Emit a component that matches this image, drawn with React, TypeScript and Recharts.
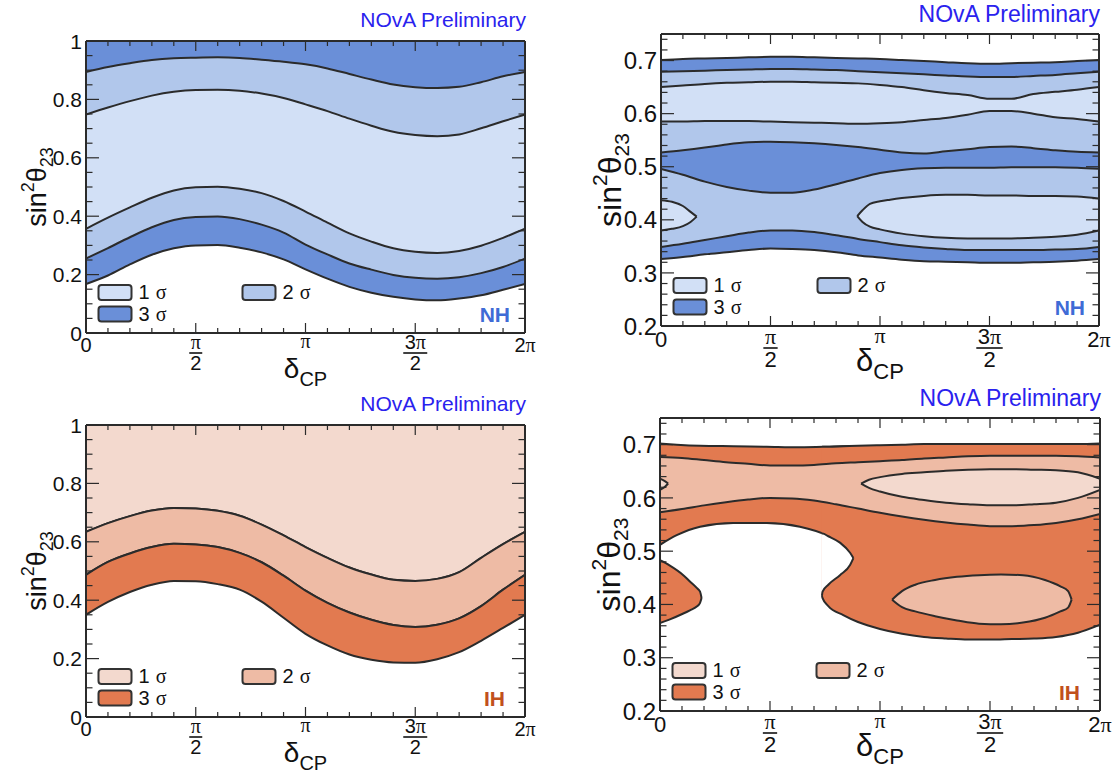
import React from 'react';
import { ComposedChart, Area, XAxis, YAxis, Legend, Customized } from 'recharts';

const SANS = '"Liberation Sans", Arial, Helvetica, sans-serif';
const SERIF = '"Liberation Serif", "Times New Roman", serif';
const INK = '#2b2b2b';
const NOVA_BLUE = '#2a22ee';

// ---------- text ----------
const titleText = 'NOvA Preliminary';
const hierNH = 'NH';
const hierIH = 'IH';
const legendEntries = ['1', '2', '3'];
const xTickLabels = [
  { lead: '0', pi: false, den: '' },
  { lead: '', pi: true, den: '2' },
  { lead: '', pi: true, den: '' },
  { lead: '3', pi: true, den: '2' },
  { lead: '2', pi: true, den: '' },
];
const yLabelsFull = ['0', '0.2', '0.4', '0.6', '0.8', '1'];
const yLabelsZoom = ['0.2', '0.3', '0.4', '0.5', '0.6', '0.7'];

// ---------- colours ----------
const nhColors = ['#d2e0f6', '#b1c7eb', '#6a8fd8'];
const ihColors = ['#f3d9ce', '#eebba5', '#e27a50'];

// ---------- x grid (units of pi) ----------
const gridX = [0, 0.1, 0.2, 0.3, 0.4, 0.5, 0.6, 0.7, 0.8, 0.9, 1.0, 1.1, 1.2, 1.3, 1.4, 1.5, 1.6, 1.7, 1.8, 1.9, 2.0];

// ---------- Panel 1 : NH, full range ----------
const nhC1 = [0.894, 0.911, 0.924, 0.935, 0.941, 0.943, 0.944, 0.942, 0.936, 0.929, 0.920, 0.906, 0.887, 0.868, 0.851, 0.842, 0.839, 0.843, 0.859, 0.879, 0.894];
const nhC2 = [0.748, 0.772, 0.794, 0.813, 0.826, 0.832, 0.833, 0.830, 0.820, 0.805, 0.783, 0.760, 0.734, 0.710, 0.689, 0.678, 0.674, 0.680, 0.701, 0.725, 0.748];
const nhC3 = [0.357, 0.395, 0.430, 0.463, 0.488, 0.499, 0.501, 0.494, 0.479, 0.452, 0.416, 0.378, 0.341, 0.313, 0.290, 0.278, 0.274, 0.281, 0.299, 0.326, 0.357];
const nhC4 = [0.255, 0.291, 0.328, 0.362, 0.387, 0.397, 0.399, 0.390, 0.371, 0.344, 0.303, 0.269, 0.238, 0.217, 0.199, 0.189, 0.186, 0.191, 0.205, 0.226, 0.255];
const nhC5 = [0.168, 0.197, 0.235, 0.268, 0.290, 0.300, 0.301, 0.292, 0.276, 0.252, 0.218, 0.186, 0.158, 0.138, 0.124, 0.115, 0.112, 0.118, 0.129, 0.148, 0.168];

// ---------- Panel 3 : IH, full range ----------
const ihC1 = [0.634, 0.664, 0.688, 0.707, 0.716, 0.714, 0.706, 0.689, 0.659, 0.622, 0.582, 0.545, 0.512, 0.488, 0.470, 0.466, 0.473, 0.496, 0.545, 0.592, 0.634];
const ihC2 = [0.487, 0.531, 0.560, 0.582, 0.593, 0.591, 0.582, 0.562, 0.530, 0.484, 0.433, 0.391, 0.358, 0.333, 0.315, 0.308, 0.316, 0.338, 0.380, 0.436, 0.487];
const ihC3 = [0.350, 0.394, 0.428, 0.453, 0.466, 0.465, 0.455, 0.436, 0.395, 0.340, 0.285, 0.245, 0.214, 0.196, 0.187, 0.186, 0.198, 0.222, 0.261, 0.305, 0.350];

// ---------- Panel 2 : NH, zoomed ----------
const nhzA = [0.701, 0.703, 0.704, 0.705, 0.706, 0.707, 0.707, 0.706, 0.705, 0.704, 0.703, 0.701, 0.699, 0.697, 0.695, 0.694, 0.695, 0.696, 0.697, 0.699, 0.701];
const nhzB = [0.679, 0.680, 0.681, 0.682, 0.683, 0.684, 0.684, 0.683, 0.682, 0.680, 0.678, 0.676, 0.674, 0.672, 0.670, 0.669, 0.669, 0.671, 0.673, 0.676, 0.679];
const nhzC = [0.650, 0.653, 0.656, 0.658, 0.659, 0.660, 0.660, 0.659, 0.658, 0.657, 0.654, 0.650, 0.644, 0.639, 0.635, 0.628, 0.628, 0.637, 0.641, 0.645, 0.650];
const nhzD = [0.585, 0.585, 0.586, 0.586, 0.586, 0.585, 0.584, 0.583, 0.582, 0.581, 0.582, 0.584, 0.588, 0.592, 0.598, 0.605, 0.605, 0.600, 0.593, 0.590, 0.585];
const nhzE = [0.527, 0.531, 0.536, 0.542, 0.546, 0.547, 0.546, 0.544, 0.541, 0.537, 0.532, 0.527, 0.525, 0.529, 0.533, 0.537, 0.538, 0.535, 0.531, 0.528, 0.527];
const nhzF = [0.496, 0.485, 0.472, 0.462, 0.455, 0.451, 0.451, 0.457, 0.467, 0.478, 0.488, 0.494, 0.497, 0.498, 0.498, 0.498, 0.499, 0.499, 0.499, 0.498, 0.496];
const nhzH = [0.349, 0.355, 0.362, 0.369, 0.376, 0.380, 0.380, 0.377, 0.371, 0.364, 0.358, 0.352, 0.348, 0.345, 0.343, 0.343, 0.343, 0.343, 0.344, 0.345, 0.349];
const nhzI = [0.326, 0.330, 0.335, 0.339, 0.343, 0.346, 0.345, 0.343, 0.339, 0.333, 0.329, 0.325, 0.322, 0.321, 0.320, 0.319, 0.319, 0.320, 0.321, 0.323, 0.326];
const nhzIsleLX = [0, 0.05, 0.1, 0.135, 0.163];
const nhzIsleLTop = [0.437, 0.434, 0.426, 0.415, 0.406];
const nhzIsleLBot = [0.380, 0.383, 0.388, 0.396, 0.406];
const nhzIsleRX = [0.896, 0.92, 0.954, 1.0, 1.046, 1.1, 1.2, 1.3, 1.4, 1.5, 1.6, 1.7, 1.8, 1.9, 2.0];
const nhzIsleRTop = [0.407, 0.418, 0.430, 0.435, 0.438, 0.441, 0.445, 0.447, 0.447, 0.446, 0.446, 0.445, 0.445, 0.444, 0.440];
const nhzIsleRBot = [0.407, 0.396, 0.387, 0.382, 0.378, 0.374, 0.369, 0.366, 0.365, 0.365, 0.365, 0.366, 0.368, 0.372, 0.380];

// ---------- Panel 4 : IH, zoomed ----------
const ihzHoleX = [0, 0.076, 0.182, 0.333, 0.485, 0.636, 0.758, 0.833, 0.871, 0.879];
const ihzHoleTop = [0.512, 0.530, 0.546, 0.553, 0.553, 0.546, 0.530, 0.512, 0.493, 0.487];
const ihzOuterTopA = [0.702, 0.700, 0.698, 0.697, 0.696, 0.695, 0.696, 0.697, 0.697, 0.697];
const ihzRightX = [0.736, 0.739, 0.765, 0.833, 0.9, 1.0, 1.1, 1.2, 1.3, 1.4, 1.5, 1.6, 1.7, 1.8, 1.9, 2.0];
const ihzRightLow = [0.416, 0.412, 0.397, 0.380, 0.367, 0.354, 0.345, 0.339, 0.336, 0.334, 0.334, 0.335, 0.336, 0.339, 0.347, 0.362];
const ihzOuterTopB = [0.696, 0.696, 0.696, 0.697, 0.698, 0.699, 0.700, 0.701, 0.701, 0.701, 0.701, 0.701, 0.701, 0.701, 0.701, 0.702];
const ihzNeckX = [0.736, 0.739, 0.765, 0.818, 0.864, 0.879];
const ihzNeckUp = [0.416, 0.424, 0.437, 0.455, 0.474, 0.487];
const ihzNeckHoleTop = [0.533, 0.533, 0.528, 0.516, 0.497, 0.487];
const ihzLobeX = [0, 0.045, 0.106, 0.136, 0.167, 0.182, 0.189];
const ihzLobeTop = [0.483, 0.473, 0.455, 0.443, 0.431, 0.424, 0.412];
const ihzLobeBot = [0.365, 0.372, 0.383, 0.389, 0.396, 0.403, 0.412];
const ihzMedTop = [0.677, 0.675, 0.671, 0.667, 0.664, 0.661, 0.661, 0.662, 0.665, 0.667, 0.669, 0.671, 0.674, 0.676, 0.678, 0.679, 0.679, 0.679, 0.679, 0.678, 0.676];
const ihzMedLow = [0.573, 0.579, 0.586, 0.592, 0.597, 0.600, 0.599, 0.595, 0.588, 0.580, 0.572, 0.565, 0.559, 0.554, 0.550, 0.547, 0.547, 0.549, 0.553, 0.560, 0.570];
const ihzIsleRX = [0.914, 0.95, 1.0, 1.1, 1.2, 1.3, 1.4, 1.5, 1.6, 1.7, 1.8, 1.9, 2.0];
const ihzIsleRTop = [0.627, 0.634, 0.639, 0.645, 0.648, 0.651, 0.653, 0.654, 0.654, 0.653, 0.652, 0.648, 0.636];
const ihzIsleRBot = [0.627, 0.619, 0.612, 0.602, 0.596, 0.591, 0.588, 0.586, 0.586, 0.588, 0.591, 0.600, 0.615];
const ihzIsleLX = [0, 0.02, 0.037];
const ihzIsleLTop = [0.636, 0.632, 0.627];
const ihzIsleLBot = [0.615, 0.620, 0.627];
const ihzIsle2X = [1.055, 1.1, 1.16, 1.25, 1.35, 1.45, 1.55, 1.65, 1.75, 1.82, 1.855, 1.871];
const ihzIsle2Top = [0.409, 0.425, 0.437, 0.446, 0.452, 0.455, 0.456, 0.455, 0.446, 0.434, 0.425, 0.409];
const ihzIsle2Bot = [0.409, 0.395, 0.387, 0.378, 0.370, 0.364, 0.363, 0.366, 0.375, 0.387, 0.394, 0.409];

// ---------- axes ticks ----------
const xTicks = Array.from({ length: 21 }, (_, i) => i / 10);
const yTicksFull = Array.from({ length: 21 }, (_, i) => i / 20);
const yTicksZoom = Array.from({ length: 28 }, (_, i) => 0.2 + i / 50);

type Pt = { x: number; r: [number, number] };
const band = (xs: number[], lo: number[] | number, hi: number[] | number): Pt[] =>
  xs.map((x, i) => ({
    x,
    r: [Array.isArray(lo) ? lo[i] : lo, Array.isArray(hi) ? hi[i] : hi] as [number, number],
  }));

type Rect = { L: number; R: number; T: number; B: number };
type Band = { data: Pt[]; fill: string };
type Fonts = { nova: number; novaDy: number; tickX: number; tickY: number; delta: number; sub: number; ylab: number; ysub: number; legend: number };
type Cfg = Rect & {
  left: number; top: number; w: number; h: number;
  yDomain: [number, number]; yTicks: number[];
  isMajorY: (v: number) => boolean; yLabel: (v: number) => string;
  bands: Band[]; colors: string[]; tag: string; tagColor: string; tagOff: number;
  f: Fonts;
};

const fontsLeft: Fonts = { nova: 21, novaDy: 14, tickX: 20, tickY: 21, delta: 28, sub: 20, ylab: 27, ysub: 18, legend: 20 };
const fontsRight: Fonts = { nova: 23, novaDy: 12, tickX: 22, tickY: 24, delta: 31, sub: 22, ylab: 32, ysub: 21, legend: 20 };

function XLabel({ x, B, k, fs }: { x: number; B: number; k: number; fs: number }) {
  const lab = xTickLabels[k];
  const s = fs / 20;
  if (lab.den) {
    const w = (lab.lead ? 24 : 13) * s;
    return (
      <g>
        <text x={x} y={B + 16 * s} textAnchor="middle" fontSize={fs} fill="#111">
          {lab.lead ? <tspan fontFamily={SANS}>{lab.lead}</tspan> : null}
          <tspan fontFamily={SERIF}>π</tspan>
        </text>
        <line x1={x - w / 2} x2={x + w / 2} y1={B + 20 * s} y2={B + 20 * s} stroke="#111" strokeWidth={1.6} />
        <text x={x} y={B + 37 * s} textAnchor="middle" fontSize={fs} fontFamily={SANS} fill="#111">{lab.den}</text>
      </g>
    );
  }
  return (
    <text x={x} y={B + (lab.pi && !lab.lead ? 15 : 19) * s} textAnchor="middle" fontSize={fs} fill="#111">
      {lab.lead ? <tspan fontFamily={SANS}>{lab.lead}</tspan> : null}
      {lab.pi ? <tspan fontFamily={SERIF}>π</tspan> : null}
    </text>
  );
}

const makeXTick = (c: Cfg) => (props: any) => {
  const x = props.x;
  const v = props.payload.value;
  const k = Math.round(v * 10);
  const major = k % 5 === 0;
  const len = major ? 10 : 5;
  return (
    <g>
      <line x1={x} x2={x} y1={c.B} y2={c.B - len} stroke={INK} strokeWidth={1.2} />
      <line x1={x} x2={x} y1={c.T} y2={c.T + len} stroke={INK} strokeWidth={1.2} />
      {major ? <XLabel x={x} B={c.B} k={k / 5} fs={c.f.tickX} /> : null}
    </g>
  );
};

const makeYTick = (c: Cfg) => (props: any) => {
  const y = props.y;
  const v = props.payload.value;
  const major = c.isMajorY(v);
  const len = major ? 13 : 6.5;
  return (
    <g>
      <line x1={c.L} x2={c.L + len} y1={y} y2={y} stroke={INK} strokeWidth={1.2} />
      <line x1={c.R} x2={c.R - len} y1={y} y2={y} stroke={INK} strokeWidth={1.2} />
      {major ? (
        <text x={c.L - 4} y={y + c.f.tickY * 0.36} textAnchor="end" fontSize={c.f.tickY} fontFamily={SANS} fill="#111">{c.yLabel(v)}</text>
      ) : null}
    </g>
  );
};

function LegendBoxes({ colors, fs }: { colors: string[]; fs: number }) {
  return (
    <svg width={210} height={42} style={{ display: 'block', overflow: 'visible' }}>
      {legendEntries.map((e, i) => {
        const bx = i === 1 ? 145.5 : 1.5;
        const by = i === 2 ? 22.5 : 1;
        return (
          <g key={i}>
            <rect x={bx} y={by} width={33} height={15} rx={3} fill={colors[i]} stroke="#333" strokeWidth={2} />
            <text x={bx + 40} y={by + 14} fontSize={fs} fontFamily={SANS} fill="#111">
              {e}
              <tspan dx={6} fontFamily={SERIF}>σ</tspan>
            </text>
          </g>
        );
      })}
    </svg>
  );
}

function Overlay({ c }: { c: Cfg }) {
  const f = c.f;
  return (
    <g>
      <text x={c.R + 1} y={c.T - f.novaDy} textAnchor="end" fontSize={f.nova} fontFamily={SANS} fill={NOVA_BLUE}>{titleText}</text>
      <text x={c.R - c.tagOff} y={c.B - 11} textAnchor="end" fontSize={21} fontWeight="bold" fontFamily={SANS} fill={c.tagColor}>{c.tag}</text>
      <text x={(c.L + c.R) / 2} y={c.B + 45} textAnchor="middle" fontSize={f.delta} fontFamily={SANS} fill="#111">
        δ<tspan fontSize={f.sub} dy={8}>CP</tspan>
      </text>
      <text transform={`translate(${c.L - 40},${(c.T + c.B) / 2}) rotate(-90)`} textAnchor="middle" fontSize={f.ylab} fontFamily={SANS} fill="#111">
        sin<tspan fontSize={f.ysub} dy={-f.ylab * 0.44}>2</tspan>
        <tspan dy={f.ylab * 0.44}>θ</tspan>
        <tspan fontSize={f.ysub} dy={f.ylab * 0.26}>23</tspan>
      </text>
    </g>
  );
}

function Panel({ c }: { c: Cfg }) {
  const XTick = makeXTick(c);
  const YTick = makeYTick(c);
  const axisLine = { stroke: INK, strokeWidth: 2 };
  return (
    <div style={{ position: 'absolute', left: c.left, top: c.top }}>
      <ComposedChart width={c.w} height={c.h} margin={{ top: c.T - 1, right: c.w - c.R - 1, bottom: c.h - c.B - 1, left: c.L - 1 }}>
        {c.bands.map((b, i) => (
          <Area
            key={i}
            xAxisId="b"
            yAxisId="l"
            data={b.data}
            dataKey="r"
            type="monotone"
            fill={b.fill}
            fillOpacity={1}
            stroke={INK}
            strokeWidth={2}
            dot={false}
            activeDot={false}
            isAnimationActive={false}
          />
        ))}
        <XAxis xAxisId="b" dataKey="x" type="number" domain={[0, 2]} ticks={xTicks} interval={0} height={1}
          tick={XTick} tickLine={false} axisLine={axisLine} allowDataOverflow />
        <XAxis xAxisId="t" orientation="top" dataKey="x" type="number" domain={[0, 2]} ticks={[0, 2]} height={1}
          tick={false} tickLine={false} axisLine={axisLine} allowDataOverflow />
        <YAxis yAxisId="l" type="number" domain={c.yDomain} ticks={c.yTicks} interval={0} width={1}
          tick={YTick} tickLine={false} axisLine={axisLine} allowDataOverflow />
        <YAxis yAxisId="r" orientation="right" type="number" domain={c.yDomain} ticks={c.yDomain} width={1}
          tick={false} tickLine={false} axisLine={axisLine} allowDataOverflow />
        <Legend
          layout="horizontal"
          verticalAlign="middle"
          align="center"
          content={() => <LegendBoxes colors={c.colors} fs={c.f.legend} />}
          wrapperStyle={{ position: 'absolute', left: c.L + 11, top: c.B - 49, width: 210, height: 42 }}
        />
        <Customized component={() => <Overlay c={c} />} />
      </ComposedChart>
    </div>
  );
}

const isMajorFull = (v: number) => Math.round(v * 100) % 20 === 0;
const isMajorZoom = (v: number) => Math.round(v * 100) % 10 === 0;
const labelFull = (v: number) => yLabelsFull[Math.round(v * 5)];
const labelZoom = (v: number) => yLabelsZoom[Math.round((v - 0.2) * 10)];

const panel1: Cfg = {
  left: 0, top: 0, w: 560, h: 392, L: 86, R: 525, T: 41, B: 333,
  yDomain: [0, 1], yTicks: yTicksFull, isMajorY: isMajorFull, yLabel: labelFull,
  colors: nhColors, tag: hierNH, tagColor: '#3f6bd6', tagOff: 15, f: fontsLeft,
  bands: [
    { data: band(gridX, nhC5, 1), fill: nhColors[2] },
    { data: band(gridX, nhC4, nhC1), fill: nhColors[1] },
    { data: band(gridX, nhC3, nhC2), fill: nhColors[0] },
  ],
};

const panel2: Cfg = {
  left: 560, top: 0, w: 558, h: 392, L: 101, R: 539, T: 34, B: 326,
  yDomain: [0.2, 0.75], yTicks: yTicksZoom, isMajorY: isMajorZoom, yLabel: labelZoom,
  colors: nhColors, tag: hierNH, tagColor: '#3f6bd6', tagOff: 14, f: fontsRight,
  bands: [
    { data: band(gridX, nhzI, nhzA), fill: nhColors[2] },
    { data: band(gridX, nhzH, nhzB), fill: nhColors[1] },
    { data: band(gridX, nhzF, nhzE), fill: nhColors[2] },
    { data: band(gridX, nhzD, nhzC), fill: nhColors[0] },
    { data: band(nhzIsleLX, nhzIsleLBot, nhzIsleLTop), fill: nhColors[0] },
    { data: band(nhzIsleRX, nhzIsleRBot, nhzIsleRTop), fill: nhColors[0] },
  ],
};

const panel3: Cfg = {
  left: 0, top: 383, w: 560, h: 390, L: 86, R: 525, T: 42, B: 334,
  yDomain: [0, 1], yTicks: yTicksFull, isMajorY: isMajorFull, yLabel: labelFull,
  colors: ihColors, tag: hierIH, tagColor: '#c1501c', tagOff: 20, f: fontsLeft,
  bands: [
    { data: band(gridX, ihC1, 1), fill: ihColors[0] },
    { data: band(gridX, ihC2, ihC1), fill: ihColors[1] },
    { data: band(gridX, ihC3, ihC2), fill: ihColors[2] },
  ],
};

const panel4: Cfg = {
  left: 560, top: 383, w: 558, h: 390, L: 100, R: 540, T: 35, B: 328,
  yDomain: [0.2, 0.75], yTicks: yTicksZoom, isMajorY: isMajorZoom, yLabel: labelZoom,
  colors: ihColors, tag: hierIH, tagColor: '#c1501c', tagOff: 20, f: fontsRight,
  bands: [
    { data: band(ihzHoleX, ihzHoleTop, ihzOuterTopA), fill: ihColors[2] },
    { data: band(ihzRightX, ihzRightLow, ihzOuterTopB), fill: ihColors[2] },
    { data: band(ihzNeckX, ihzNeckUp, ihzNeckHoleTop), fill: '#ffffff' },
    { data: band(ihzLobeX, ihzLobeBot, ihzLobeTop), fill: ihColors[2] },
    { data: band(gridX, ihzMedLow, ihzMedTop), fill: ihColors[1] },
    { data: band(ihzIsleRX, ihzIsleRBot, ihzIsleRTop), fill: ihColors[0] },
    { data: band(ihzIsleLX, ihzIsleLBot, ihzIsleLTop), fill: ihColors[0] },
    { data: band(ihzIsle2X, ihzIsle2Bot, ihzIsle2Top), fill: ihColors[1] },
  ],
};

export default function App() {
  return (
    <div style={{ position: 'absolute', left: 0, top: 0, width: 1118, height: 773, background: '#ffffff', overflow: 'hidden' }}>
      <Panel c={panel1} />
      <Panel c={panel2} />
      <Panel c={panel3} />
      <Panel c={panel4} />
    </div>
  );
}
